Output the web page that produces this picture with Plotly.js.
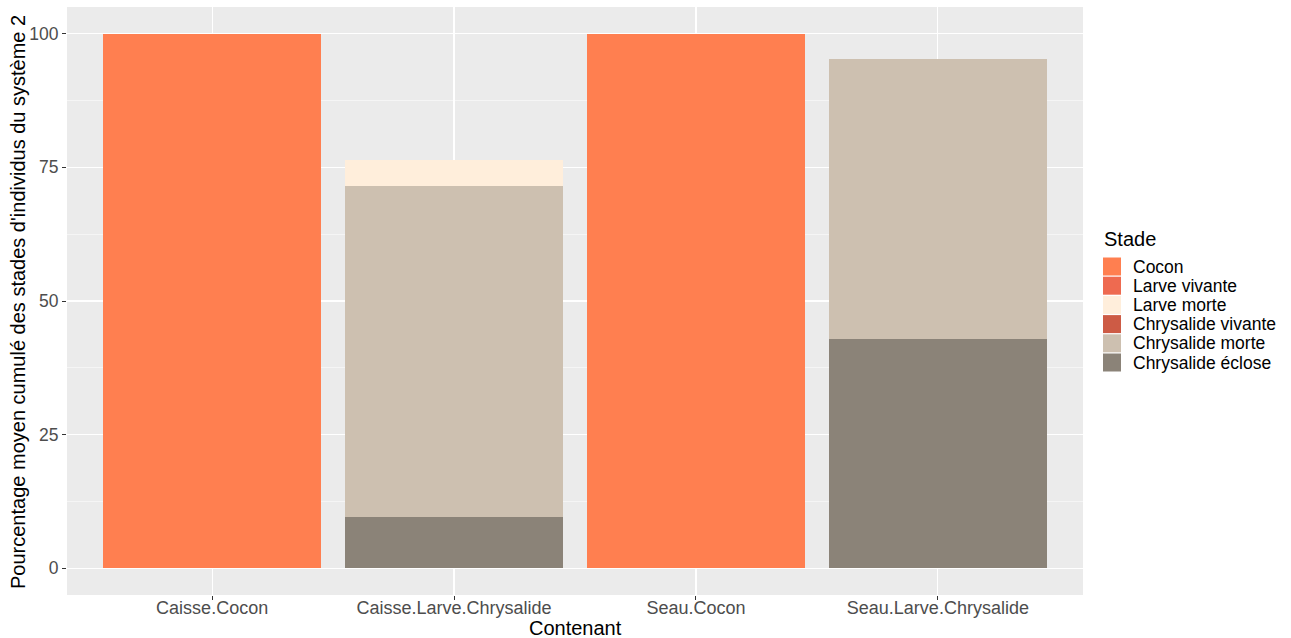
<!DOCTYPE html>
<html>
<head>
<meta charset="utf-8">
<script src="https://cdn.plot.ly/plotly-3.0.1.min.js"></script>
<style>html,body{margin:0;padding:0;background:#fff;}#chart{width:1291px;height:638px;}</style>
</head>
<body>
<div id="chart"></div>
<script>
const categories = ["Caisse.Cocon", "Caisse.Larve.Chrysalide", "Seau.Cocon", "Seau.Larve.Chrysalide"];
const stades = ["Cocon", "Larve vivante", "Larve morte", "Chrysalide vivante", "Chrysalide morte", "Chrysalide éclose"];
const colors = ["#FF7F50", "#EE6A50", "#FFEEDB", "#CD5B45", "#CDC0B0", "#8B8378"];
const cocon = [100, 0, 100, 0];
const larveVivante = [0, 0, 0, 0];
const larveMorte = [0, 4.8, 0, 0];
const chrysalideVivante = [0, 0, 0, 0];
const chrysalideMorte = [0, 62.1, 0, 52.4];
const chrysalideEclose = [0, 9.5, 0, 42.9];
const yTicks = [0, 25, 50, 75, 100];

const W = 1291, H = 638;
const M = {l: 67, r: 208, t: 7, b: 43};
const PW = W - M.l - M.r, PH = H - M.t - M.b;
const px = x => (x - M.l) / PW;
const py = y => (H - M.b - y) / PH;

const series = [cocon, larveVivante, larveMorte, chrysalideVivante, chrysalideMorte, chrysalideEclose];
const traces = [];
for (let i = series.length - 1; i >= 0; i--) {
  traces.push({
    type: "bar",
    name: stades[i],
    x: categories,
    y: series[i],
    marker: {color: colors[i], line: {width: 0}},
    showlegend: false,
    hoverinfo: "x+y+name"
  });
}

const shapes = [];
const annotations = [];
// axis titles
annotations.push({
  xref: "paper", yref: "paper", x: 0.5, y: py(628),
  xanchor: "center", yanchor: "middle", showarrow: false,
  text: "Contenant", font: {size: 20, color: "#000"}
});
annotations.push({
  xref: "paper", yref: "paper", x: px(18), y: py(302),
  xanchor: "center", yanchor: "middle", showarrow: false, textangle: -90,
  text: "Pourcentage moyen cumulé des stades d'individus du système 2", font: {size: 20, color: "#000"}
});
// Custom legend (ggplot style keys)
const keyX0 = 1103, keyW = 18, keyTop = 257.5, keyStep = 19.2, keyH = 18;
annotations.push({
  xref: "paper", yref: "paper", x: px(keyX0 - 1), y: py(239),
  xanchor: "left", yanchor: "middle", showarrow: false,
  text: "Stade", font: {size: 20, color: "#000"}
});
stades.forEach((s, i) => {
  const top = keyTop + i * keyStep;
  shapes.push({
    type: "rect", xref: "paper", yref: "paper",
    x0: px(keyX0), x1: px(keyX0 + keyW), y0: py(top), y1: py(top + keyH),
    fillcolor: colors[i], line: {width: 0}
  });
  annotations.push({
    xref: "paper", yref: "paper", x: px(1131), y: py(top + keyH / 2),
    xanchor: "left", yanchor: "middle", showarrow: false,
    text: s, font: {size: 17.5, color: "#000"}
  });
});

const layout = {
  width: W, height: H,
  margin: M,
  paper_bgcolor: "#FFFFFF",
  plot_bgcolor: "#EBEBEB",
  barmode: "stack",
  bargap: 0.1,
  font: {family: "Liberation Sans, Arial, sans-serif", color: "#000"},
  xaxis: {
    type: "category",
    range: [-0.6, 3.6],
    showgrid: true, gridcolor: "#FFFFFF", gridwidth: 1.1,
    zeroline: false, showline: false,
    ticks: "outside", ticklen: 4, tickcolor: "#333333", tickwidth: 1,
    ticklabelstandoff: -8,
    tickfont: {size: 18, color: "#4D4D4D"}
  },
  yaxis: {
    range: [-5, 105],
    tickvals: yTicks,
    ticktext: yTicks.map(String),
    showgrid: true, gridcolor: "#FFFFFF", gridwidth: 1.1,
    minor: {dtick: 12.5, tick0: 0, showgrid: true, gridcolor: "#FFFFFF", gridwidth: 0.5, ticks: ""},
    zeroline: false, showline: false,
    ticks: "outside", ticklen: 4, tickcolor: "#333333", tickwidth: 1,
    tickfont: {size: 17.5, color: "#4D4D4D"}
  },
  shapes: shapes,
  annotations: annotations,
  showlegend: false
};

Plotly.newPlot("chart", traces, layout, {displayModeBar: false, staticPlot: true});
</script>
</body>
</html>
